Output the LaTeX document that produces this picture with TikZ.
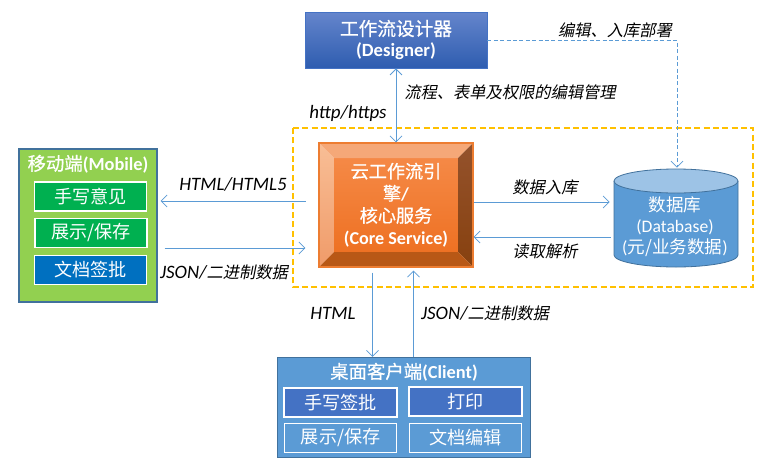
\documentclass[tikz,border=0pt]{standalone}
\usepackage{fontspec}
\usetikzlibrary{arrows.meta}
\setmainfont{Carlito}
\newfontfamily\zhf{Noto Sans CJK SC}
\newfontfamily\zhb[FakeBold=0.7]{Noto Sans CJK SC}
\newfontfamily\zhs[FakeSlant=0.2]{Noto Sans CJK SC}
\newcommand{\zh}[1]{{\zhf #1}}
\newcommand{\zb}[1]{{\zhb #1}}
\newcommand{\zi}[1]{{\fontsize{12.2pt}{15pt}\selectfont\zhs #1}}
\newcommand{\dn}[1]{\raisebox{-1.2pt}{#1}}
\def\u{0.75pt}
\definecolor{linkc}{HTML}{5B9BD5}
\definecolor{edgec}{HTML}{41719C}
\definecolor{dashy}{HTML}{FFC000}
\definecolor{mobg}{HTML}{92D050}
\definecolor{grn}{HTML}{00B050}
\definecolor{blu}{HTML}{0070C0}
\definecolor{ind}{HTML}{4472C4}
\definecolor{destop}{HTML}{6585CC}
\definecolor{desbot}{HTML}{2E5DB0}
\definecolor{cylb}{HTML}{5B9BD5}
\definecolor{cylt}{HTML}{9DC3E6}
\tikzset{
  box/.style={rectangle,inner sep=0pt,align=center,text=white},
  inbox/.style={box,draw=white,font=\fontsize{13.6pt}{16pt}\selectfont},
  link/.style={draw=linkc,line width=0.7pt},
  tip/.style={-{Straight Barb[length=4.5pt,width=9pt,line width=0.6pt]}},
  bothtip/.style={{Straight Barb[length=4.5pt,width=9pt,line width=0.6pt]}-{Straight Barb[length=4.5pt,width=9pt,line width=0.6pt]}},
  lab/.style={inner sep=0pt,text=black,font=\fontsize{14.2pt}{15pt}\selectfont\itshape},
}
\begin{document}
\begin{tikzpicture}[x=0.75pt,y=-0.75pt]
\useasboundingbox (0,0) rectangle (767,468);
\fill[white] (0,0) rectangle (767,468);
% dashed zone
\path[draw=dashy,line width=1pt,dash pattern=on 4.5pt off 2.5pt] (293,128) -- (753,128) -- (753,287) -- (293,287) -- cycle;
% designer
\node[box,draw=ind,line width=0.6pt,top color=destop,bottom color=desbot,minimum width={182*\u},minimum height={56*\u},font=\fontsize{14pt}{17pt}\selectfont] (designer) at (396,40)
  {\dn{\zb{工作流设计器}}\\[-1pt]\dn{\textbf{(Designer)}}};
% core bevel
\shade[top color={rgb,255:red,245;green,137;blue,70},bottom color={rgb,255:red,238;green,113;blue,35}] (334,158) rectangle (458,252);
\shade[top color={rgb,255:red,248;green,190;blue,150},bottom color={rgb,255:red,240;green,155;blue,105}] (319,143) -- (334,158) -- (334,252) -- (319,267) -- cycle;
\fill[fill={rgb,255:red,245;green,168;blue,120}] (319,143) -- (473,143) -- (458,158) -- (334,158) -- cycle;
\shade[top color={rgb,255:red,148;green,82;blue,44},bottom color={rgb,255:red,135;green,65;blue,15}] (473,143) -- (473,267) -- (458,252) -- (458,158) -- cycle;
\fill[fill={rgb,255:red,184;green,88;blue,22}] (319,267) -- (334,252) -- (458,252) -- (473,267) -- cycle;
\node[box,draw={rgb,255:red,237;green,125;blue,49},line width=0.8pt,minimum width={154*\u},minimum height={124*\u},font=\fontsize{13.6pt}{16.6pt}\selectfont] (core) at (396,205)
  {\dn{\zb{云工作流引}}\\\dn{\zb{擎}\textbf{/}}\\\dn{\zb{核心服务}}\\\dn{\textbf{(Core Service)}}};
% mobile
\node[box,draw=edgec,line width=0.8pt,fill=mobg,minimum width={138*\u},minimum height={153*\u}] (mobile) at (88,225.5) {};
\node[box,font=\fontsize{13.8pt}{16pt}\selectfont] (mobtitle) at (88,164) {\zb{移动端}\textbf{(Mobile)}};
\node[inbox,line width=1.1pt,fill=grn,minimum width={112.5*\u},minimum height={29*\u}] (m1) at (90.5,196.5) {\zh{手写意见}};
\node[inbox,line width=0.8pt,fill=grn,minimum width={112*\u},minimum height={29*\u}] (m2) at (91,232.7) {\zh{展示/保存}};
\node[inbox,line width=0.8pt,fill=blu,minimum width={112*\u},minimum height={29*\u}] (m3) at (90.5,270) {\zh{文档签批}};
% database
\fill[cylb] (614,181) -- (614,255) arc[start angle=180,end angle=360,x radius=62,y radius=-12] -- (738,181) -- cycle;
\draw[edgec,line width=0.6pt] (614,181) -- (614,255) arc[start angle=180,end angle=360,x radius=62,y radius=-12] -- (738,181);
\draw[edgec,line width=0.6pt,fill=cylt] (676,181) ellipse[x radius=62,y radius=12];
\node[box,minimum width={124*\u},minimum height={82*\u},font=\fontsize{13.2pt}{15.8pt}\selectfont] (db) at (675,227)
  {\zh{数据库}\\(Database)\\(\zh{元/业务数据})};
% client
\node[box,draw=edgec,line width=0.8pt,fill=linkc,minimum width={253*\u},minimum height={100*\u}] (client) at (404,407.5) {};
\node[box,font=\fontsize{13.8pt}{16pt}\selectfont] (cltitle) at (404,372) {\zb{桌面客户端}\textbf{(Client)}};
\node[inbox,line width=1.1pt,fill=ind,minimum width={113*\u},minimum height={29*\u}] (c1) at (340.5,402.5) {\zh{手写签批}};
\node[inbox,line width=1.1pt,fill=ind,minimum width={113*\u},minimum height={29*\u}] (c2) at (465.5,401.5) {\zh{打印}};
\node[inbox,line width=0.8pt,fill=linkc,minimum width={112.5*\u},minimum height={29*\u}] (c3) at (340.7,437.7) {\zh{展示/保存}};
\node[inbox,line width=0.8pt,fill=linkc,minimum width={112*\u},minimum height={29*\u}] (c4) at (465.5,437.7) {\zh{文档编辑}};
% connectors
\draw[link,bothtip] (designer.south) -- (core.north);
\draw[link,tip] ([shift={(-12.5,-4)}]core.west) -- ([shift={(3,-24.5)}]mobile.east);
\draw[link,tip] ([shift={(7,22.5)}]mobile.east) -- ([shift={(-13,43)}]core.west);
\draw[link,tip] ([shift={(0,-3)}]core.east) -- ([shift={(-3,-25)}]db.west);
\draw[link,tip] ([shift={(-2,10)}]db.west) -- ([shift={(0,32)}]core.east);
\draw[link,tip] ([shift={(-23.5,5)}]core.south) -- ([shift={(-31.5,0)}]client.north);
\draw[link,tip] ([shift={(9.5,0)}]client.north) -- ([shift={(17.5,3)}]core.south);
\draw[link,tip,dash pattern=on 3pt off 1.8pt] ([yshift={-0.5*\u}]designer.east) -| ([shift={(2,-18)}]db.north);
% labels
\node[lab] (l1) at (233,184) {HTML/HTML5};
\node[lab] (l2) at (224,272) {JSON/\zi{二进制数据}};
\node[lab] (l3) at (545,187) {\zi{数据入库}};
\node[lab] (l4) at (545,251) {\zi{读取解析}};
\node[lab] (l5) at (348,113) {http/https};
\node[lab] (l6) at (510,92) {\zi{流程、表单及权限的编辑管理}};
\node[lab] (l7) at (615,30) {\zi{编辑、入库部署}};
\node[lab] (l8) at (333,313) {HTML};
\node[lab] (l9) at (485,313) {JSON/\zi{二进制数据}};
\end{tikzpicture}
\end{document}
